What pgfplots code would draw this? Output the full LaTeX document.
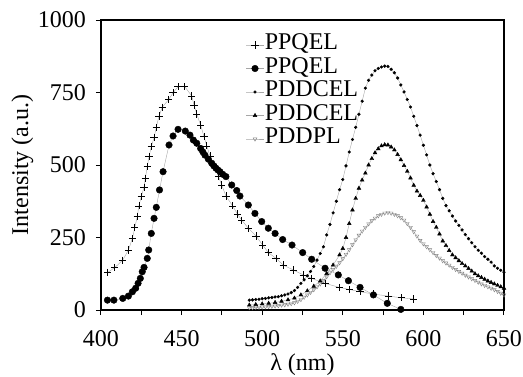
\documentclass[border=0pt]{standalone}
\usepackage{fontspec}
\setmainfont{Liberation Serif}
\usepackage{pgfplots}
\pgfplotsset{compat=1.18}
\begin{document}
\fontsize{24}{27}\selectfont
\begin{tikzpicture}
\begin{axis}[
  width=403pt, height=290pt, scale only axis,
  xmin=400, xmax=650, ymin=0, ymax=1000,
  xtick={400,450,...,650}, minor xtick={425,475,...,625},
  ytick={0,250,500,750,1000},
  tick align=outside, xtick pos=bottom, ytick pos=left,
  major tick length=5pt, minor tick length=5pt,
  every tick/.style={black, line width=1pt},
  axis line style={line width=1.6pt},
  /pgf/number format/assume math mode=true,
  /pgf/number format/1000 sep={},
  ticklabel style={font=\fontsize{24}{27}\selectfont},
  yticklabel style={xshift=-2pt},
  xticklabel style={yshift=-7pt},
  xlabel={λ (nm)}, ylabel={Intensity (a.u.)},
  label style={font=\fontsize{24}{27}\selectfont},
  xlabel style={at={(axis description cs:0.5,-0.19)}, anchor=center},
  ylabel style={at={(axis description cs:-0.195,0.5)}, anchor=center},
  legend style={draw=none, fill=none, at={(0.36,0.955)}, anchor=north west,
    font=\fontsize{24}{27}\selectfont, row sep=0pt, inner sep=0pt,
    nodes={inner ysep=0pt, inner xsep=1pt, text height=16.5pt, text depth=7pt}},
  legend cell align=left,
]
\addplot[gray!70, line width=0.4pt, mark=+, mark size=3.6pt, mark options={black, line width=0.7pt}] coordinates {
(404,129)(408.5,146)(413.5,172)(417,207)(419.5,247)(421,285)(422.5,322)(423.5,359)
(425,391)(426.7,423)(427.5,454)(428.7,494)(429.8,529)(431.2,563)(432.9,594)(434.3,630)
(436,669)(438,699)(442,726)(444.7,749)(447.8,770)(452,770)(456.3,738)(457.7,707)
(459.4,676)(461.8,638)(463.9,598)(465.6,566)(467.6,531)(469.7,503)(472.8,462)(474.9,431)
(477.5,393)(481.7,359)(484.6,331)(487.3,310)(491.4,282)(496.2,255)(500.3,224)(503.8,198)
(508.6,178)(513.1,155)(519.3,138)(525.5,121)(530.7,109)(539,92)(547.8,78)(554,71)
(560.7,63)(569,55)(578.2,48)(586.5,42)(594,38)};
\addlegendentry{PPQEL}
\addplot[gray!70, line width=0.4pt, mark=*, mark size=3.3pt, mark options={black, fill=black}] coordinates {
(404,34)(408,34)(413.5,40)(417,48)(419.5,63)(421.5,75)(423,92)(424.4,109)(425.6,132)
(426.7,147)(428.7,178)(429.6,207)(431.2,264)(432.9,316)(434.3,354)(436.3,414)(438.5,477)
(442.2,569)(444.7,600)(447.8,623)(452.3,617)(455.2,603)(457.3,586)(459.4,575)(461.8,557)
(463.2,545)(464.5,534)(466.6,520)(468.7,506)(470,497)(471.3,489)(472.5,483)(473.8,477)(475.5,468)(477.5,460)
(481.1,431)(484.2,412)(486.2,393)(491.4,362)(495.5,333)(499.7,305)(503.8,282)(508,264)
(512.7,243)(518.5,224)(525.1,198)(530.7,175)(539,144)(547.2,121)(553.5,101)(560.7,78)
(569,52)(577.6,23)(586,2)};
\addlegendentry{PPQEL}
\addplot[gray!70, line width=0.4pt, mark=*, mark size=1.4pt, mark options={black, fill=black}] coordinates {
(492,34)(494,35)(496,36)(498,37)(500,39)(502,40)(504,42)(506,43)(508,45)(510,46)
(512,49)(514,52)(516,55)(518,60)(520,67)(522,78)(524,92)(526,104)(528,118)(530,133)
(532,150)(534,172)(536,195)(538,218)(540,259)(542,295)(544,335)(546,375)(548,415)(550,450)
(552,497)(554,545)(556,588)(558,630)(560,675)(562,720)(564,765)(566,792)(568,810)(570,825)
(572,833)(574,838)(576,841)(578,840)(580,830)(582,818)(584,800)(586,776)(588,752)(590,726)
(592,700)(594,668)(596,636)(598,603)(600,568)(602,535)(604,500)(606,470)(608,443)(610,415)
(612,385)(614,360)(616,342)(618,324)(620,307)(622,292)(624,276)(626,260)(628,246)(630,232)
(632,218)(634,206)(636,196)(638,184)(640,175)(642,165)(644,152)(646,144)(648,137)(650,130)};
\addlegendentry{PDDCEL}
\addplot[gray!70, line width=0.4pt, mark=triangle*, mark size=2.2pt, mark options={black, fill=black}] coordinates {
(492,17)(496,19)(500,21)(504,23)(508,26)(512,30)(516,35)(520,41)(524,52)(528,66)
(532,82)(536,100)(540,126)(544,155)(548,190)(550,212)(552,250)(554,298)(556,345)(558,385)
(560,420)(562,448)(564,472)(566,500)(568,522)(570,542)(572,556)(574,566)(576,570)(578,569)
(580,562)(582,552)(584,536)(586,518)(588,498)(590,478)(592,455)(594,430)(596,410)(598,395)
(600,378)(602,355)(604,330)(606,305)(608,285)(610,262)(612,238)(614,222)(616,205)(618,190)
(620,180)(622,170)(624,160)(626,152)(628,143)(630,134)(632,125)(634,118)(636,112)(638,106)
(640,100)(642,95)(644,90)(646,85)(648,80)(650,75)};
\addlegendentry{PDDCEL}
\addplot[gray!70, line width=0.4pt, mark=triangle, mark size=2.2pt, mark options={gray, rotate=180}] coordinates {
(492,8)(494,8)(496,9)(498,9)(500,10)(502,11)(504,12)(506,13)(508,14)(510,15)(512,17)(514,18)(516,20)(518,22)
(520,25)(522,30)(524,36)(526,44)(528,52)(530,61)(532,70)(534,80)(536,90)(538,102)(540,115)(542,128)
(544,140)(546,151)(548,163)(550,177)(552,192)(554,208)(556,225)(558,242)(560,258)(562,272)(564,285)(566,297)
(568,308)(570,317)(572,325)(574,330)(576,334)(578,336)(580,334)(582,330)(584,325)(586,318)(588,310)(590,298)
(592,285)(594,270)(596,255)(598,240)(600,228)(602,218)(604,208)(606,198)(608,188)(610,179)(612,170)(614,162)
(616,155)(618,147)(620,140)(622,133)(624,127)(626,120)(628,114)(630,108)(632,102)(634,96)(636,90)(638,85)
(640,80)(642,75)(644,70)(646,64)(648,58)(650,52)};
\addlegendentry{PDDPL}
\end{axis}
\pgfresetboundingbox
\useasboundingbox (-101pt,-66pt) rectangle (422pt,310pt);
\end{tikzpicture}
\end{document}
